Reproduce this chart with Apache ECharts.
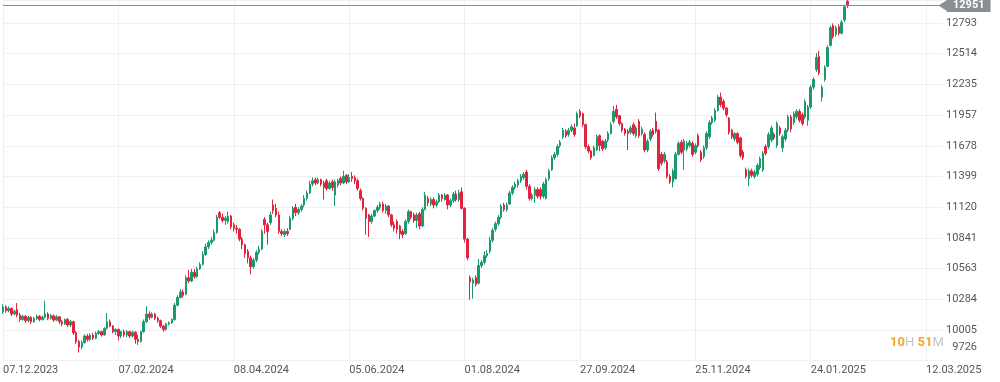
<!DOCTYPE html>
<html><head><meta charset="utf-8">
<script src="https://cdn.jsdelivr.net/npm/echarts@6/dist/echarts.min.js"></script>
<style>html,body{margin:0;padding:0;background:#fff}#c{width:1000px;height:382px}</style>
</head><body><div id="c"></div>
<script>
const tickLabels = ['07.12.2023','07.02.2024','08.04.2024','05.06.2024','01.08.2024','27.09.2024','25.11.2024','24.01.2025','12.03.2025'];
const barsPerLabel = 41;
const totalSlots = 335;
const lastPrice = 12951;
const yMin = 9726.2, yMax = 13002, yStep = 278.8;
// [open, close, low, high]
const ohlc = [
[10170,10215,10150,10240],[10215,10180,10160,10230],[10180,10200,10165,10220],[10200,10150,10130,10210],[10150,10175,10140,10190],
[10190,10140,10120,10250],[10140,10100,10080,10160],[10100,10130,10090,10145],[10130,10090,10070,10140],[10090,10120,10075,10135],
[10120,10080,10060,10130],[10080,10110,10070,10125],[10110,10130,10095,10145],[10130,10100,10085,10140],[10100,10120,10090,10135],
[10120,10150,10110,10270],[10150,10110,10095,10165],[10110,10135,10100,10150],[10135,10095,10080,10145],[10095,10125,10085,10140],
[10125,10080,10060,10130],[10080,10060,10040,10095],[10060,10100,10050,10110],[10100,10050,10030,10115],[10050,10080,10030,10095],
[10080,9980,9960,10090],[9980,9900,9880,9995],[9900,9850,9800,9915],[9850,9890,9830,9910],[9890,9950,9880,9965],
[9950,9920,9900,9970],[9920,9960,9905,9975],[9960,9930,9915,9980],[9930,9975,9920,9990],[9975,9990,9960,10005],
[9990,9960,9945,10000],[9960,10020,9955,10030],[10020,10080,10010,10160],[10080,10040,10030,10100],[10040,9990,9975,10050],
[9990,10010,9960,10020],[10010,9950,9910,10020],[9950,9990,9930,10000],[9990,9960,9940,10010],[9960,9990,9940,10005],
[9990,9950,9930,10000],[9950,9985,9935,10000],[9985,9920,9880,9995],[9920,9900,9870,9960],[9900,9990,9890,10000],
[9990,10080,9980,10100],[10080,10150,10070,10220],[10150,10120,10100,10175],[10120,10150,10110,10165],[10150,10110,10095,10160],
[10110,10090,10070,10125],[10090,10040,10025,10100],[10040,10010,9990,10050],[10010,10060,10000,10070],[10060,10070,10045,10085],
[10070,10100,10060,10110],[10100,10230,10090,10250],[10230,10300,10220,10320],[10300,10350,10290,10375],[10350,10320,10300,10370],
[10330,10480,10320,10500],[10480,10450,10430,10550],[10450,10530,10440,10560],[10530,10490,10470,10560],[10490,10560,10480,10580],
[10560,10600,10550,10620],[10600,10690,10590,10720],[10690,10760,10680,10790],[10760,10800,10740,10820],[10800,10820,10780,10850],
[10820,10890,10810,10920],[10890,11030,10880,11050],[11070,11030,11010,11085],[11030,11000,10980,11060],[11000,11020,10960,11040],
[10990,11040,10970,11080],[11040,10940,10920,11050],[10960,10930,10900,10980],[10930,10920,10880,10960],[10920,10830,10810,10930],
[10830,10780,10740,10850],[10780,10700,10660,10790],[10720,10660,10610,10740],[10660,10580,10510,10680],[10580,10640,10560,10660],
[10640,10710,10620,10730],[10710,10740,10690,10770],[10740,10900,10730,10920],[11010,10960,10880,11030],[10960,10900,10780,10980],
[10980,11050,10960,11080],[11140,11090,11060,11190],[11110,11050,11030,11150],[11050,10900,10880,11080],[10900,10880,10860,10920],
[10870,10900,10850,10920],[10900,10880,10860,10930],[10920,11020,10910,11040],[11020,11110,11000,11130],[11120,11070,11040,11150],
[11070,11100,11050,11120],[11100,11130,11080,11150],[11140,11200,11120,11230],[11200,11250,11180,11270],[11250,11330,11240,11360],
[11330,11360,11310,11390],[11370,11340,11320,11390],[11340,11370,11330,11390],[11370,11330,11310,11380],[11340,11300,11190,11360],
[11360,11290,11270,11380],[11290,11340,11280,11360],[11350,11300,11270,11370],[11230,11350,11130,11370],[11320,11360,11300,11380],
[11380,11340,11320,11400],[11340,11400,11330,11450],[11410,11350,11330,11420],[11350,11390,11340,11420],[11400,11380,11350,11440],
[11390,11360,11330,11410],[11360,11290,11270,11380],[11270,11200,11180,11290],[11200,11110,11090,11210],[11110,11020,10870,11120],
[11050,10990,10850,11060],[10990,11040,10970,11060],[11040,11090,11030,11100],[11090,11120,11070,11140],[11120,11150,11100,11170],
[11150,11090,11070,11170],[11090,11130,11060,11150],[11130,11050,11030,11140],[11050,10960,10940,11060],[10960,10930,10900,10990],
[10990,10920,10880,11010],[10950,10880,10830,10960],[10900,10870,10840,10920],[10880,10990,10870,11010],[10990,11080,10970,11100],
[11080,11030,11010,11090],[11050,11000,10980,11070],[11000,11050,10930,11070],[11060,10950,10920,11080],[10950,11100,10940,11120],
[11100,11230,11090,11260],[11200,11160,11130,11220],[11150,11190,11130,11210],[11190,11140,11110,11210],[11140,11170,11120,11190],
[11170,11230,11160,11250],[11230,11200,11170,11240],[11190,11230,11180,11250],[11230,11140,11100,11240],[11140,11180,11120,11200],
[11180,11240,11160,11260],[11240,11190,11170,11270],[11190,11250,11170,11280],[11260,11110,11100,11300],[11110,10830,10800,11120],
[10830,10660,10640,10840],[10480,10440,10280,10500],[10430,10460,10290,10480],[10480,10420,10400,10500],[10430,10590,10420,10650],
[10590,10620,10570,10640],[10620,10680,10600,10720],[10680,10700,10660,10730],[10720,10820,10700,10850],[10820,10910,10800,10930],
[10920,10970,10900,10990],[10970,11030,10950,11050],[11030,11130,11010,11150],[11140,11100,11080,11160],[11100,11140,11080,11160],
[11150,11250,11140,11270],[11250,11300,11230,11320],[11300,11330,11280,11350],[11320,11360,11300,11380],[11360,11400,11340,11420],
[11390,11420,11370,11440],[11440,11310,11280,11460],[11310,11200,11180,11330],[11200,11230,11180,11250],[11230,11280,11160,11300],
[11280,11220,11200,11300],[11280,11220,11190,11300],[11220,11330,11200,11350],[11200,11370,11190,11390],[11380,11450,11360,11470],
[11460,11570,11450,11590],[11570,11600,11550,11620],[11600,11670,11580,11690],[11680,11710,11660,11730],[11760,11820,11740,11840],
[11810,11770,11750,11830],[11780,11820,11760,11840],[11820,11850,11800,11870],[11840,11780,11760,11880],[11860,11970,11850,11990],
[11990,11950,11930,12010],[11970,11870,11850,11980],[11870,11670,11650,11880],[11670,11630,11610,11690],[11630,11570,11550,11640],
[11590,11660,11580,11680],[11640,11760,11630,11780],[11770,11680,11630,11780],[11720,11650,11630,11730],[11660,11720,11640,11740],
[11730,11790,11710,11810],[11790,11870,11780,11890],[11900,11990,11880,12040],[12010,11940,11920,12050],[11950,11880,11860,11960],
[11880,11820,11800,11890],[11830,11790,11770,11840],[11810,11790,11640,11830],[11800,11840,11780,11860],[11870,11790,11770,11890],
[11770,11840,11750,11860],[11900,11770,11750,11920],[11790,11830,11770,11850],[11780,11640,11620,11800],[11640,11720,11620,11740],
[11740,11810,11720,11830],[11820,11780,11760,11840],[11900,11810,11790,11980],[11820,11470,11450,11830],[11600,11520,11500,11620],
[11540,11600,11520,11620],[11530,11400,11380,11550],[11400,11350,11330,11420],[11350,11450,11300,11470],[11380,11600,11370,11620],
[11600,11700,11590,11720],[11710,11620,11600,11730],[11640,11720,11460,11740],[11650,11700,11630,11720],[11680,11710,11660,11730],
[11700,11600,11580,11720],[11620,11680,11600,11700],[11770,11680,11660,11790],[11620,11550,11530,11640],[11580,11660,11560,11680],
[11660,11790,11640,11810],[11760,11890,11740,11910],[11890,11930,11870,11950],[11910,12000,11890,12020],[12000,12120,11990,12140],
[12120,12050,12030,12160],[12080,12020,12000,12100],[12020,11960,11940,12030],[11930,11800,11780,11940],[11820,11760,11740,11830],
[11740,11790,11720,11800],[11790,11710,11690,11800],[11750,11590,11570,11760],[11620,11570,11550,11640],[11460,11400,11380,11480],
[11380,11450,11310,11470],[11450,11410,11390,11470],[11400,11440,11380,11460],[11420,11500,11400,11520],[11480,11560,11460,11580],
[11460,11610,11440,11630],[11670,11610,11590,11690],[11670,11780,11650,11800],[11730,11840,11710,11860],[11780,11750,11730,11800],
[11680,11880,11660,11900],[11840,11790,11770,11860],[11660,11760,11620,11780],[11740,11820,11720,11840],[11820,11940,11800,11960],
[11940,11830,11800,11960],[11890,11970,11870,11990],[11940,11990,11920,12010],[11990,11910,11890,12010],[11960,11880,11860,11980],
[11940,12080,11920,12100],[11910,12030,11860,12050],[12030,12210,12010,12230],[12210,12280,12190,12300],[12370,12480,12350,12520],
[12490,12340,12320,12540],[12120,12210,12080,12230],[12280,12390,12260,12410],[12400,12570,12390,12590],[12590,12750,12580,12770],
[12770,12670,12650,12790],[12690,12750,12670,12770],[12760,12700,12680,12780],[12700,12800,12690,12820],[12820,12940,12800,12960],
[12990,12951,12930,13030]
];

const UP = '#1c9a6b', DOWN = '#e2233d';
const categories = Array.from({length: totalSlots}, (_, i) => String(i));
const showTick = (i) => i % barsPerLabel === 0;

const chart = echarts.init(document.getElementById('c'), null, {renderer: 'canvas'});
chart.setOption({
  animation: false,
  backgroundColor: '#fff',
  grid: {left: 3, right: 57, top: 0, bottom: 21.3, containLabel: false},
  xAxis: {
    type: 'category', data: categories, boundaryGap: false,
    axisLine: {show: false}, axisTick: {show: false},
    axisLabel: {
      interval: (i) => showTick(i), align: 'left', margin: 4,
      color: '#555', fontFamily: 'Roboto', fontSize: 11,
      formatter: (v, i) => tickLabels[i / barsPerLabel] || ''
    },
    splitLine: {show: true, interval: (i) => showTick(i), lineStyle: {color: '#f0f0f0', width: 1}}
  },
  yAxis: {
    type: 'value', position: 'right', min: yMin, max: yMax, interval: yStep, scale: true,
    axisLine: {show: false}, axisTick: {show: false},
    axisLabel: {
      align: 'right', margin: 34, color: '#555', fontFamily: 'Roboto', fontSize: 11,
      showMaxLabel: false,
      formatter: (v) => Math.abs(v - yMin) < 1 ? '{lo|' + Math.round(v) + '}' : String(Math.round(v)),
      rich: {lo: {padding: [0, 0, 27, 0], color: '#555', fontFamily: 'Roboto', fontSize: 11}}
    },
    splitLine: {show: true, lineStyle: {color: '#f0f0f0', width: 1}}
  },
  series: [{
    type: 'candlestick', data: ohlc, barWidth: 2,
    itemStyle: {color: UP, color0: DOWN, borderColor: UP, borderColor0: DOWN, borderWidth: 1},
    markLine: {
      silent: true, animation: false,
      symbol: ['none', 'path://M0,0 L10,0 L5,10 Z'], symbolSize: [12, 9],
      lineStyle: {color: '#8a8f94', width: 1, type: 'solid'},
      label: {
        position: 'end', distance: 4, formatter: String(lastPrice),
        backgroundColor: '#8a8f94', color: '#fff', fontFamily: 'Roboto', fontSize: 11, fontWeight: 'bold',
        padding: [1, 6, 1, 6]
      },
      data: [{yAxis: lastPrice}]
    }
  }],
  graphic: [{
    type: 'text', left: 890, top: 336, silent: true,
    style: {
      text: '{o|10}{g|H} {o|51}{g|M}',
      rich: {
        o: {fill: '#f5a623', fontFamily: 'Roboto', fontSize: 13, fontWeight: 'bold'},
        g: {fill: '#c4c4c4', fontFamily: 'Roboto', fontSize: 13}
      }
    }
  }]
});
</script>
</body></html>
